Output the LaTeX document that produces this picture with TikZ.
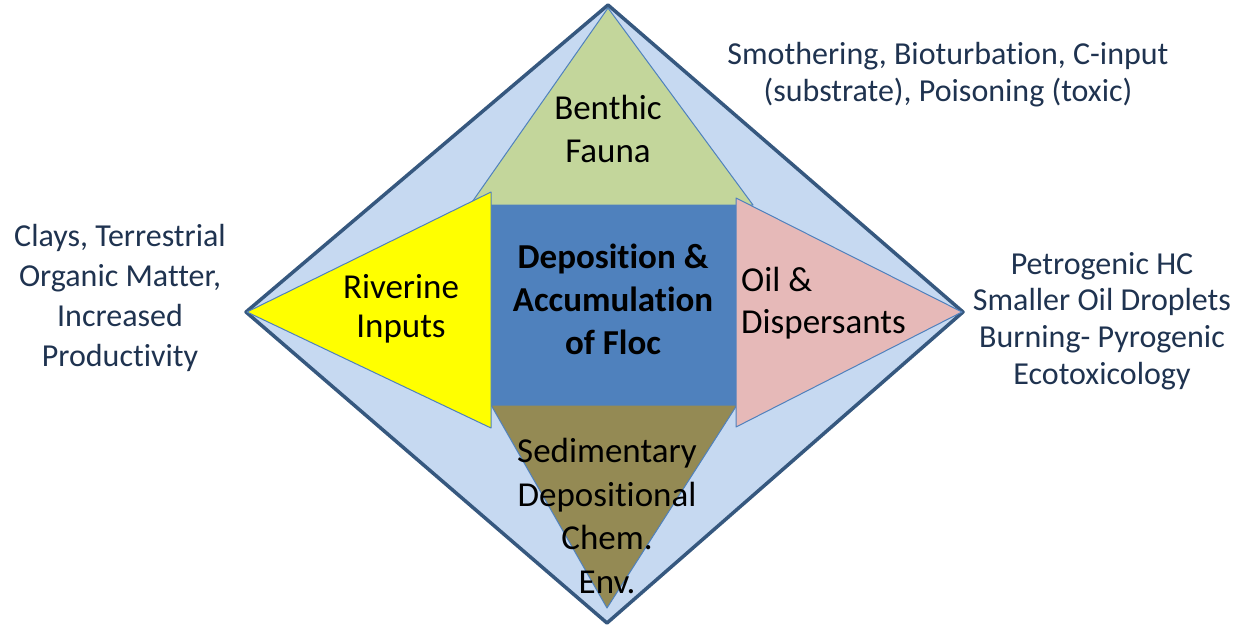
\documentclass[tikz,border=0pt]{standalone}
\usepackage{fontspec}
\setmainfont[Ligatures=NoCommon]{Carlito}
\definecolor{dfill}{HTML}{C6D9F1}
\definecolor{dline}{HTML}{36587F}
\definecolor{tline}{HTML}{4F81BD}
\definecolor{cgreen}{HTML}{C3D69B}
\definecolor{cblue}{HTML}{4F81BD}
\definecolor{cyellow}{HTML}{FFFF00}
\definecolor{cpink}{HTML}{E6B9B8}
\definecolor{cbrown}{HTML}{948A54}
\definecolor{navy}{HTML}{1F3350}
\tikzset{
  tri/.style={draw=tline, line width=1pt, line join=round},
  intext/.style={inner sep=0pt, align=center, text=black, font=\fontsize{35}{43}\selectfont},
  outtext/.style={inner sep=0pt, align=center, text=navy, font=\fontsize{32}{40}\selectfont},
}
\begin{document}
\begin{tikzpicture}[x=1pt,y=-1pt]
\useasboundingbox (0,0) rectangle (1245,624);
% outer diamond
\coordinate (dT) at (608,5);
\coordinate (dR) at (963,312);
\coordinate (dB) at (607,623);
\coordinate (dL) at (246,312);
\fill[dfill] (dT) -- (dR) -- (dB) -- (dL) -- cycle;
\draw[dline, line width=3.5pt, line join=round] (dT) -- (dR) -- (dB) -- (dL) -- cycle;
% green triangle
\coordinate (gA) at (608,8);
\coordinate (gL) at (470,205);
\coordinate (gR) at (753,205);
\draw[tri, fill=cgreen] (gA) -- (gR) -- (gL) -- cycle;
% brown triangle
\coordinate (bL) at (491,405);
\coordinate (bR) at (737,405);
\coordinate (bA) at (607,608);
\draw[tri, fill=cbrown] (bL) -- (bR) -- (bA) -- cycle;
% blue box
\fill[cblue] (491,205) rectangle (736,405);
% yellow triangle
\coordinate (yA) at (247,312);
\coordinate (yT) at (491,192);
\coordinate (yB) at (491,428);
\draw[tri, fill=cyellow] (yA) -- (yT) -- (yB) -- cycle;
% pink triangle
\coordinate (pA) at (962,312);
\coordinate (pT) at (736,198);
\coordinate (pB) at (736,427);
\draw[tri, fill=cpink] (pA) -- (pT) -- (pB) -- cycle;
% inside texts
\node[intext] (benthic) at (608,129) {Benthic\\Fauna};
\node[intext, font=\fontsize{35}{43}\bfseries] (depo) at (613,299) {Deposition \&\\Accumulation\\of Floc};
\node[intext, font=\fontsize{35}{38.5}\selectfont] (river) at (401,309) {Riverine\\Inputs};
\node[intext, align=left, anchor=west, font=\fontsize{35}{41.5}\selectfont] (oil) at (741,303) {Oil \&\\Dispersants};
\node[intext, font=\fontsize{35}{43.7}\selectfont] (sed) at (607,516) {Sedimentary\\Depositional\\Chem.\\Env.};
% outside texts
\node[outtext] (left) at (120,297.5) {Clays, Terrestrial\\Organic Matter,\\Increased\\Productivity};
\node[outtext, font=\fontsize{32}{36.7}\selectfont] (right) at (1102,321) {Petrogenic HC\\Smaller Oil Droplets\\Burning- Pyrogenic\\Ecotoxicology};
\node[outtext, font=\fontsize{32}{37}\selectfont] (top) at (948,75) {Smothering, Bioturbation, C-input\\(substrate), Poisoning (toxic)};
\end{tikzpicture}
\end{document}
